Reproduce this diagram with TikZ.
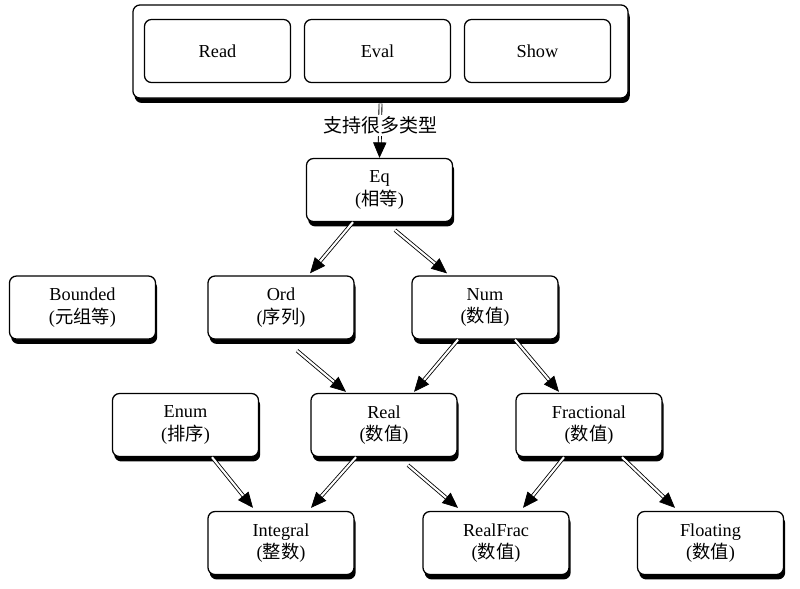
\documentclass[tikz,border=0pt]{standalone}
\usepackage{fontspec}
\setmainfont{Liberation Serif}
\newfontfamily\cjk{Noto Sans CJK SC}
\usetikzlibrary{calc}
\usetikzlibrary{shadows}
\usetikzlibrary{arrows.meta}
\usetikzlibrary{decorations.markings}
\tikzstyle{plainbox}=[draw=black, line width=0.9pt, fill=white, rounded corners=5pt, minimum width=3.65cm, minimum height=1.575cm, align=center, font=\fontsize{13}{16}\selectfont]
\tikzstyle{tbox}=[plainbox, drop shadow={shadow xshift=1.2pt, shadow yshift=-3.5pt, fill=black, opacity=1}]
\tikzstyle{outerbox}=[tbox, minimum width=12.375cm, minimum height=2.325cm]
\tikzstyle{isa}=[double=white, double distance=1.5pt, line width=0.6pt, shorten >=9pt,
    postaction={decorate, decoration={markings, mark=at position 1 with {\arrow[line width=0.5pt]{Triangle[length=11pt,width=9.5pt]}}}}]
\newcommand{\zh}[1]{({\cjk #1})}

\begin{document}
\begin{tikzpicture}[x=0.025cm, y=-0.025cm]
    \useasboundingbox (0,0) rectangle (800,588);

    %read eval show
    \node[outerbox] (repl) at (380.5,51.5) {};
    \node[plainbox] (read) at (217.5,51) {Read};
    \node[plainbox] (eval) at (377.5,51) {Eval};
    \node[plainbox] (show) at (537.5,51) {Show};

    %classes
    \node[tbox] (eq) at (379.5,190) {Eq\\\zh{相等}};
    \node[tbox] (bounded) at (82.5,307.5) {Bounded\\\zh{元组等}};
    \node[tbox] (ord) at (281,307.5) {Ord\\\zh{序列}};
    \node[tbox] (num) at (485,307.5) {Num\\\zh{数值}};
    \node[tbox] (enum) at (185.5,425) {Enum\\\zh{排序}};
    \node[tbox] (real) at (384,425) {Real\\\zh{数值}};
    \node[tbox] (fractional) at (589,425) {Fractional\\\zh{数值}};
    \node[tbox] (integral) at (281,543) {Integral\\\zh{整数}};
    \node[tbox] (realfrac) at (496,543) {RealFrac\\\zh{数值}};
    \node[tbox] (floating) at (710.5,543) {Floating\\\zh{数值}};

    %arrows
    \draw[isa] ($(repl.south)+(0,5)$) -- node[pos=0.4, fill=white, inner sep=1pt, font=\cjk\fontsize{13.5}{15}\selectfont] (types) {支持很多类型} (eq.north);
    \draw[isa] ($(eq.south)+(-26.5,0)$) -- ($(ord.north)+(29,-2)$);
    \draw[isa] ($(eq.south)+(15.5,8)$) -- ($(num.north)+(-38,-2)$);
    \draw[isa] ($(ord.south)+(16,11)$) -- ($(real.north)+(-38,-1)$);
    \draw[isa] ($(num.south)+(-27,0)$) -- ($(real.north)+(30,-1)$);
    \draw[isa] ($(num.south)+(30,0)$) -- ($(fractional.north)+(-30,-1)$);
    \draw[isa] ($(enum.south)+(26.5,0)$) -- ($(integral.north)+(-28,-3)$);
    \draw[isa] ($(real.south)+(-28,0)$) -- ($(integral.north)+(30,-3)$);
    \draw[isa] ($(real.south)+(24,8)$) -- ($(realfrac.north)+(-38,-3)$);
    \draw[isa] ($(fractional.south)+(-25,0)$) -- ($(realfrac.north)+(27,-3)$);
    \draw[isa] ($(fractional.south)+(33,0)$) -- ($(floating.north)+(-35.5,-3)$);

\end{tikzpicture}
\end{document}
